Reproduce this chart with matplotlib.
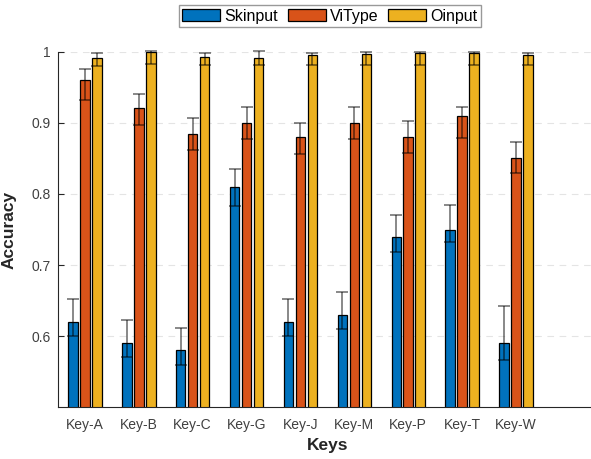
import matplotlib
matplotlib.use("Agg")
import matplotlib.pyplot as plt
import numpy as np

plt.rcParams.update({
    "font.family": ["Liberation Sans", "DejaVu Sans"],
    "font.size": 10,
})

# -------------------------
# Data
# -------------------------
keys = ["Key-A", "Key-B", "Key-C", "Key-G", "Key-J", "Key-M", "Key-P", "Key-T", "Key-W"]

skinput = [0.62, 0.59, 0.58, 0.81, 0.62, 0.63, 0.74, 0.75, 0.59]
skinput_hi = [0.652, 0.622, 0.611, 0.835, 0.652, 0.662, 0.770, 0.784, 0.643]
skinput_lo = [0.600, 0.570, 0.560, 0.783, 0.600, 0.610, 0.719, 0.733, 0.567]

vitype = [0.96, 0.921, 0.885, 0.90, 0.88, 0.90, 0.88, 0.91, 0.85]
vitype_hi = [0.976, 0.941, 0.907, 0.922, 0.900, 0.922, 0.902, 0.923, 0.873]
vitype_lo = [0.932, 0.897, 0.862, 0.878, 0.856, 0.878, 0.858, 0.879, 0.830]

oinput = [0.991, 1.0, 0.993, 0.991, 0.996, 0.997, 0.998, 0.998, 0.996]
oinput_hi = [0.999, 1.001, 0.999, 1.001, 0.999, 1.000, 1.000, 1.000, 0.999]
oinput_lo = [0.980, 0.983, 0.981, 0.981, 0.981, 0.982, 0.982, 0.982, 0.981]

series = [
    ("Skinput", skinput, skinput_lo, skinput_hi, "#0072BD"),
    ("ViType", vitype, vitype_lo, vitype_hi, "#D95319"),
    ("Oinput", oinput, oinput_lo, oinput_hi, "#EDB120"),
]

# -------------------------
# Figure
# -------------------------
fig = plt.figure(figsize=(5.91, 4.59), dpi=100)
ax = fig.add_axes([0.098, 0.113, 0.912, 0.774])

x = np.arange(1, len(keys) + 1)
offset = 0.222
width = 0.178
axis_col = "#262626"

for i, (name, vals, lo, hi, col) in enumerate(series):
    vals = np.asarray(vals)
    pos = x + (i - 1) * offset
    ax.bar(pos, vals, width=width, color=col, edgecolor="black",
           linewidth=0.9, label=name, zorder=2)
    yerr = np.vstack([vals - np.asarray(lo), np.asarray(hi) - vals])
    eb = ax.errorbar(pos, vals, yerr=yerr, fmt="none", ecolor="black",
                     elinewidth=1.3, capsize=4, capthick=1.3, alpha=0.5,
                     zorder=3)
    for art in eb.lines[1] + eb.lines[2]:
        art.set_clip_on(False)

ax.set_xlim(0.5, 10.5)
ax.set_ylim(0.5, 1.0)
ax.set_xticks(x)
ax.set_xticklabels(keys)
ax.set_yticks([0.6, 0.7, 0.8, 0.9, 1.0])
ax.set_yticklabels(["0.6", "0.7", "0.8", "0.9", "1"])

ax.grid(axis="y", linestyle=(0, (6, 5)), color="#262626", alpha=0.12, linewidth=0.8)
ax.set_axisbelow(True)

for s in ["top", "right"]:
    ax.spines[s].set_visible(False)
for s in ["left", "bottom"]:
    ax.spines[s].set_color(axis_col)
    ax.spines[s].set_linewidth(0.8)

ax.tick_params(direction="in", length=4, width=0.8, colors=axis_col,
               labelsize=10, labelcolor="#404040")
ax.tick_params(axis="x", pad=8)
ax.tick_params(axis="y", pad=5)

ax.set_xlabel("Keys", fontsize=12.5, fontweight="bold", color=axis_col, labelpad=4)
ax.set_ylabel("Accuracy", fontsize=12.5, fontweight="bold", color=axis_col, labelpad=11)

leg = fig.legend(loc="center", bbox_to_anchor=(0.558, 0.965), ncol=3,
                 fontsize=11.5, frameon=True, fancybox=False, edgecolor="#808080",
                 handlelength=2.4, handleheight=0.8, handletextpad=0.25,
                 columnspacing=0.6, borderpad=0.2, borderaxespad=0)
leg.get_frame().set_linewidth(1.0)

fig.savefig("out.png", dpi=100)
